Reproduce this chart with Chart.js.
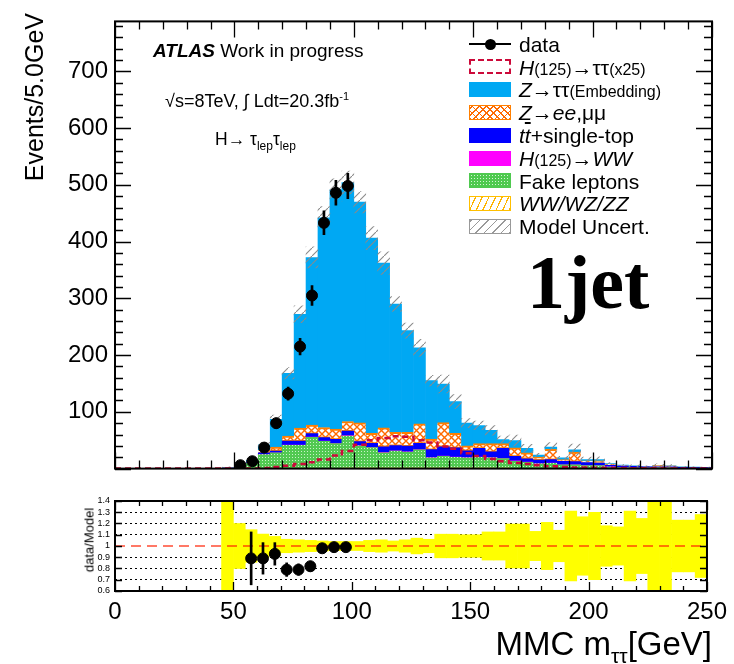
<!DOCTYPE html>
<html>
<head>
<meta charset="utf-8">
<script src="https://cdn.jsdelivr.net/npm/chart.js@4.4.1/dist/chart.umd.min.js"></script>
<style>
html,body{margin:0;padding:0;background:#fff;}
#wrap{position:relative;width:734px;height:664px;overflow:hidden;font-family:"Liberation Sans",Arial,Helvetica,sans-serif;color:#000;}
canvas{position:absolute;left:0;}
.t{position:absolute;white-space:nowrap;line-height:1;}
.leg{position:absolute;left:469px;width:42px;height:15px;box-sizing:border-box;}
.lt{position:absolute;left:519px;font-size:21px;line-height:1;white-space:nowrap;}
.sm{font-size:16px;}
</style>
</head>
<body>
<div id="wrap">
<canvas id="main" width="734" height="490" style="top:0"></canvas>
<canvas id="ratio" width="734" height="174" style="top:490px"></canvas>

<div class="t" style="left:153px;top:41px;font-size:19px;"><b><i>ATLAS</i></b> Work in progress</div>
<div class="t" style="left:165px;top:91px;font-size:18px;">√s=8TeV, ∫ Ldt=20.3fb<sup style="font-size:11px">-1</sup></div>
<div class="t" style="left:215px;top:131px;font-size:17.5px;">H→ τ<sub style="font-size:12px">lep</sub>τ<sub style="font-size:12px">lep</sub></div>
<div class="t" style="left:527px;top:244px;font-size:76px;font-family:'Liberation Serif','Times New Roman',serif;font-weight:bold;">1jet</div>

<div class="t" style="left:20px;top:313px;width:300px;text-align:right;font-size:25px;line-height:1.15;transform-origin:left top;transform:rotate(-90deg);">Events/5.0GeV</div>
<div class="t" style="left:89px;top:540px;font-size:13px;transform:translate(-50%,-50%) rotate(-90deg);">data/Model</div>
<div class="t" style="right:22px;top:627px;font-size:33px;">MMC m<sub style="font-size:21px">ττ</sub>[GeV]</div>

<!-- legend -->
<div style="position:absolute;left:469px;top:43px;width:42px;height:2px;background:#000;"></div>
<div style="position:absolute;left:485px;top:38.5px;width:11px;height:11px;border-radius:50%;background:#000;"></div>
<div class="lt" style="top:33.7px">data</div>

<div class="leg" style="top:59.3px;border:2px dashed #cc0a3a;"></div>
<div class="lt" style="top:56.5px"><i>H</i><span class="sm">(125)</span>→ττ<span class="sm">(x25)</span></div>

<div class="leg" style="top:82.1px;background:#00a8f3;"></div>
<div class="lt" style="top:79.3px"><i>Z</i>→ττ<span class="sm">(Embedding)</span></div>

<div class="leg" style="top:104.9px;border:1.5px solid #ff7f00;background:repeating-linear-gradient(45deg,#ff6a00 0 1.3px,transparent 1.3px 5px),repeating-linear-gradient(-45deg,#ff6a00 0 1.3px,transparent 1.3px 5px),#fff;"></div>
<div class="lt" style="top:102.1px"><i>Z</i>→<i>ee</i>,μμ</div>

<div class="leg" style="top:127.7px;background:#0000ff;"></div>
<div class="lt" style="top:124.9px"><i>t<span style="text-decoration:overline">t</span></i>+single-top</div>

<div class="leg" style="top:150.5px;background:#ff00ff;"></div>
<div class="lt" style="top:147.7px"><i>H</i><span class="sm">(125)</span>→<i>WW</i></div>

<div class="leg" style="top:173.3px;border:1px solid #4fc94f;background:radial-gradient(circle,#d4f5d4 0.8px,transparent 1px) 0 0/3px 3px,#4fc94f;"></div>
<div class="lt" style="top:170.5px">Fake leptons</div>

<div class="leg" style="top:196.1px;border:1.5px solid #ffbf00;background:repeating-linear-gradient(-65deg,#ffb400 0 1.2px,transparent 1.2px 6px),#fff;"></div>
<div class="lt" style="top:193.3px"><i>WW/WZ/ZZ</i></div>

<div class="leg" style="top:218.9px;border:1.5px solid #999;background:repeating-linear-gradient(-45deg,#999 0 1px,transparent 1px 6px),#fff;"></div>
<div class="lt" style="top:216.1px">Model Uncert.</div>
</div>

<script>
// ---------------- data ----------------
const binCenters = [2.5,7.5,12.5,17.5,22.5,27.5,32.5,37.5,42.5,47.5,52.5,57.5,62.5,67.5,72.5,77.5,82.5,87.5,92.5,97.5,102.5,107.5,112.5,117.5,122.5,127.5,132.5,137.5,142.5,147.5,152.5,157.5,162.5,167.5,172.5,177.5,182.5,187.5,192.5,197.5,202.5,207.5,212.5,217.5,222.5,227.5,232.5,237.5,242.5,247.5];
const binWidth = 5;

const dibosonVV = [0,0,0,0,0,0,0,0,0, 0,0,0.3,0.5,0.7,1,1,1,1,1,1.5, 1.5,1.5,1.5,1.5,1.5,1.5,1.5,1.5,1.5,1.5, 1.5,1.5,1.5,1,0.5,0.5,0.5,0.5,0.5,0.5, 0.5,0.3,0.3,0.2,0.2,0.2,0.2,0.1,0,0];
const fakeLeptons = [0,0,0,0,0,0,0,0,0, 1,1.5,9,24,27,40,40,54,47,43,56, 38.5,35.5,26.5,29.5,27.5,31.5,17.5,20,18.5,17.5, 18.5,17.5,16,12,10.5,8,9,6,6,5, 5,2.5,1.5,1,1,1.5,1.5,0.5,0.5,0.5];
const higgsWW = [0,0,0,0,0,0,0,0,0, 0,0,0.2,0.3,0.3,0.5,0.5,0.5,0.5,0.5,0.5, 0.5,0.5,0.5,0.5,0.5,0.5,0.5,0.5,0.5,0.5, 0.5,0.5,0.5,0.5,0.3,0.3,0.3,0.2,0.2,0.2, 0.2,0.1,0.1,0.1,0.1,0,0,0,0,0];
const ttbarTop = [0,0,0,0,0,0,0,0,0, 0,0.5,1.2,3,3,7,7,6,6,7,8, 7,7,10,9,10,11,14,16.5,16,12, 15,10,17.5,8,6,6,6,6,5.5,5, 4,3,2.5,2.5,2,1.5,1.5,1.5,1.5,1.2];
const zeeMuMu = [0,0,0,0,0,0,0,0,0, 0,1,1.5,5,7,9,23,15,18,18,17, 33,17.5,33.5,23.5,24.5,34.5,18.5,42.5,25.5,8.5, 8.5,14.5,8.5,15,10.5,5,18,3,17,3, 4,2,1,0.7,0.4,2.5,1.5,0.5,0.3,0.2];
const zTauTau = [0,0,0,0,0,0,0,0,0, 1,2,2.4,9,49,110.5,200.5,295.5,369.5,421.5,421, 389,344,290,226,179,134,103,68,56,40, 32,23.5,7,13,8,4,4,3.3,3.8,2.3, 2.3,1.1,0.6,0.5,0.3,0.2,0.3,0.4,0.2,0.1];
const higgsTauTauX25 = [0,0,0,0,0,0,0,0,0,0,0,0, 1,3,5,8,11,16,23,31, 42,50,54,57,56,50,46,39,35,27, 22,17,13,10,8,6,4,3,2,2, 1.5,1,1,0.5,0.5,0.5,0.3,0.2,0.2,0.1];
const modelUnc = [0,0,0,0,0,0,0,0,0, 0.5,0.2,0.145,0.106,0.085,0.06,0.055,0.05,0.045,0.04,0.04, 0.04,0.05,0.055,0.045,0.055,0.07,0.06,0.105,0.105,0.10, 0.10,0.125,0.125,0.195,0.195,0.13,0.21,0.14,0.31,0.26, 0.30,0.18,0.17,0.31,0.245,0.45,0.39,0.23,0.23,0.28];
const dataEvents = [null,null,null,null,null,null,null,null,null,null, 6,13,37,80,132,215,305,433,486,498, null,null,null,null,null,null,null,null,null,null, null,null,null,null,null,null,null,null,null,null, null,null,null,null,null,null,null,null,null,null];
const dataErr = [null,null,null,null,null,null,null,null,null,null, 2.5,3.6,6,9,11.5,14.5,17.5,21,22,22.5, null,null,null,null,null,null,null,null,null,null, null,null,null,null,null,null,null,null,null,null, null,null,null,null,null,null,null,null,null,null];
const ratioVals = [null,null,null,null,null,null,null,null,null,null, null,0.89,0.89,0.93,0.79,0.79,0.82,0.98,0.99,0.99, null,null,null,null,null,null,null,null,null,null, null,null,null,null,null,null,null,null,null,null, null,null,null,null,null,null,null,null,null,null];
const ratioErr = [null,null,null,null,null,null,null,null,null,null, null,0.235,0.14,0.1,0.06,0.05,0.045,0.04,0.04,0.04, null,null,null,null,null,null,null,null,null,null, null,null,null,null,null,null,null,null,null,null, null,null,null,null,null,null,null,null,null,null];
const xTickStep = 50;
const yTickStep = 100;
const yMax = 788;

// ---------------- helpers ----------------
Chart.defaults.font.family = '"Liberation Sans", Arial, Helvetica, sans-serif';
Chart.defaults.color = '#000';
Chart.defaults.animation = false;

function makePattern(w, h, draw) {
  const c = document.createElement('canvas');
  c.width = w; c.height = h;
  const g = c.getContext('2d');
  draw(g, w, h);
  return g.createPattern(c, 'repeat');
}
const patZee = makePattern(7, 7, (g, w, h) => {
  g.fillStyle = '#fff'; g.fillRect(0, 0, w, h);
  g.strokeStyle = '#ff6a00'; g.lineWidth = 1.4;
  g.beginPath();
  g.moveTo(-1, -1); g.lineTo(w + 1, h + 1);
  g.moveTo(w + 1, -1); g.lineTo(-1, h + 1);
  g.stroke();
});
const patFake = makePattern(3, 3, (g, w, h) => {
  g.fillStyle = '#52c952'; g.fillRect(0, 0, w, h);
  g.fillStyle = '#c9f2c9'; g.fillRect(1, 1, 1, 1);
});
const patVV = makePattern(6, 6, (g, w, h) => {
  g.fillStyle = '#fff'; g.fillRect(0, 0, w, h);
  g.strokeStyle = '#ffb400'; g.lineWidth = 1.2;
  g.beginPath(); g.moveTo(-1, -1); g.lineTo(w + 1, h + 1); g.stroke();
});
const patUnc = makePattern(8, 8, (g, w, h) => {
  g.strokeStyle = '#8a8a8a'; g.lineWidth = 1.1;
  g.beginPath();
  g.moveTo(-1, h + 1); g.lineTo(w + 1, -1);
  g.stroke();
});

const pts = arr => binCenters.map((x, i) => ({x, y: arr[i]}));
const totals = binCenters.map((_, i) => dibosonVV[i] + fakeLeptons[i] + higgsWW[i] + ttbarTop[i] + zeeMuMu[i] + zTauTau[i]);
const uncBars = binCenters.map((x, i) => ({x, y: [totals[i] * (1 - modelUnc[i]), totals[i] * (1 + modelUnc[i])]})).filter((p, i) => totals[i] > 0);
const higgsStep = binCenters.flatMap((x, i) => [{x: x - binWidth / 2, y: higgsTauTauX25[i]}, {x: x + binWidth / 2, y: higgsTauTauX25[i]}]);
const dataPts = binCenters.map((x, i) => ({x, y: dataEvents[i]})).filter(p => p.y !== null);
const dataBars = binCenters.map((x, i) => ({x, y: dataEvents[i] === null ? null : [dataEvents[i] - dataErr[i], dataEvents[i] + dataErr[i]]})).filter(p => p.y !== null);
const bandBars = binCenters.map((x, i) => ({x, y: [1 - modelUnc[i], 1 + modelUnc[i]]})).filter((p, i) => totals[i] > 0);
const ratioPts = binCenters.map((x, i) => ({x, y: ratioVals[i]})).filter(p => p.y !== null);
const ratioBars = binCenters.map((x, i) => ({x, y: ratioVals[i] === null ? null : [ratioVals[i] - ratioErr[i], ratioVals[i] + ratioErr[i]]})).filter(p => p.y !== null);

// frame + inward ROOT-style ticks drawn through the chart scales
const frameTicks = {
  id: 'frameTicks',
  afterDatasetsDraw(chart, args, o) {
    const {ctx, chartArea: a} = chart;
    const xs = chart.scales[o.xId], ys = chart.scales[o.yId];
    ctx.save();
    ctx.strokeStyle = '#000';
    ctx.lineWidth = 1.3;
    ctx.beginPath();
    const nx = Math.round((xs.max - xs.min) / o.xMinor);
    for (let k = 0; k <= nx; k++) {
      const v = xs.min + k * o.xMinor;
      const r = v / o.xMajor;
      const L = Math.abs(r - Math.round(r)) < 1e-6 ? o.xMajLen : o.xMinLen;
      const px = Math.round(xs.getPixelForValue(v)) + 0.5;
      ctx.moveTo(px, a.bottom); ctx.lineTo(px, a.bottom - L);
      ctx.moveTo(px, a.top); ctx.lineTo(px, a.top + L);
    }
    const ny = Math.floor((ys.max - ys.min) / o.yMinor + 1e-6);
    for (let k = 0; k <= ny; k++) {
      const v = ys.min + k * o.yMinor;
      const r = v / o.yMajor;
      const L = Math.abs(r - Math.round(r)) < 1e-6 ? o.yMajLen : o.yMinLen;
      const py = Math.round(ys.getPixelForValue(v)) + 0.5;
      ctx.moveTo(a.left, py); ctx.lineTo(a.left + L, py);
      ctx.moveTo(a.right, py); ctx.lineTo(a.right - L, py);
    }
    ctx.stroke();
    ctx.lineWidth = 2;
    ctx.strokeRect(a.left, a.top, a.right - a.left, a.bottom - a.top);
    ctx.restore();
  }
};

const barCommon = {type: 'bar', grouped: false, barPercentage: 1, categoryPercentage: 1, borderWidth: 0};
const stackCommon = {...barCommon, xAxisID: 'x', yAxisID: 'y', order: 10};
const hiddenX = {type: 'linear', min: 0, max: 250, offset: false, display: false};

new Chart(document.getElementById('main'), {
  type: 'bar',
  data: {
    datasets: [
      {...stackCommon, label: 'WW/WZ/ZZ', data: pts(dibosonVV), backgroundColor: patVV, borderColor: '#ffbf00', borderWidth: {top: 1, left: 0, right: 0, bottom: 0}},
      {...stackCommon, label: 'Fake leptons', data: pts(fakeLeptons), backgroundColor: patFake},
      {...stackCommon, label: 'H(125)→WW', data: pts(higgsWW), backgroundColor: '#ff00ff'},
      {...stackCommon, label: 'tt+single-top', data: pts(ttbarTop), backgroundColor: '#0000ff'},
      {...stackCommon, label: 'Z→ee,μμ', data: pts(zeeMuMu), backgroundColor: patZee, borderColor: '#ff7f00', borderSkipped: false, borderWidth: {top: 2, left: 0, right: 0, bottom: 1.5}},
      {...stackCommon, label: 'Z→ττ', data: pts(zTauTau), backgroundColor: '#00a8f3'},
      {...barCommon, label: 'Model Uncert.', data: uncBars, xAxisID: 'xe', yAxisID: 'yu', backgroundColor: patUnc, order: 5},
      {type: 'line', label: 'H(125)→ττ(x25)', data: higgsStep, xAxisID: 'xe', yAxisID: 'yu', borderColor: '#cc0a3a', borderWidth: 2.5, borderDash: [6, 4], pointRadius: 0, fill: false, order: 3},
      {...barCommon, label: 'data err', data: dataBars, xAxisID: 'xd', yAxisID: 'yu', backgroundColor: '#000', barThickness: 2, order: 1},
      {type: 'line', label: 'data', data: dataPts, xAxisID: 'xd', yAxisID: 'yu', showLine: false, pointRadius: 5.5, pointBackgroundColor: '#000', pointBorderColor: '#000', order: 0}
    ]
  },
  options: {
    responsive: false,
    animation: false,
    layout: {padding: {top: 13, right: 22, bottom: 8, left: 0}},
    plugins: {
      legend: {display: false}, tooltip: {enabled: false},
      frameTicks: {xId: 'x', yId: 'y', xMinor: 10, xMajor: xTickStep, xMajLen: 16, xMinLen: 8, yMinor: 20, yMajor: yTickStep, yMajLen: 16, yMinLen: 8}
    },
    scales: {
      x: {...hiddenX, stacked: true},
      xe: {...hiddenX},
      xd: {...hiddenX},
      y: {
        type: 'linear', min: 0, max: yMax, stacked: true, position: 'left',
        grid: {display: false, drawTicks: false}, border: {display: false},
        ticks: {stepSize: yTickStep, includeBounds: false, padding: 7, font: {size: 24}, callback: v => v > 0 ? v : ''},
        afterFit(s) { s.width = 115; }
      },
      yu: {type: 'linear', min: 0, max: yMax, display: false}
    }
  },
  plugins: [frameTicks]
});

const dottedVals = [0.7, 0.8, 0.9, 1.1, 1.2, 1.3];
new Chart(document.getElementById('ratio'), {
  type: 'bar',
  data: {
    datasets: [
      {...barCommon, label: 'band', data: bandBars, xAxisID: 'x', yAxisID: 'y', backgroundColor: '#ffff00', order: 5},
      {type: 'line', label: 'unity', data: [{x: 0, y: 1}, {x: 250, y: 1}], xAxisID: 'xe', yAxisID: 'y', borderColor: 'rgba(255,30,0,0.6)', borderWidth: 2, borderDash: [10, 6], pointRadius: 0, fill: false, order: 2},
      {...barCommon, label: 'ratio err', data: ratioBars, xAxisID: 'xd', yAxisID: 'y', backgroundColor: '#000', barThickness: 2, order: 1},
      {type: 'line', label: 'ratio', data: ratioPts, xAxisID: 'xd', yAxisID: 'y', showLine: false, pointRadius: 5.5, pointBackgroundColor: '#000', pointBorderColor: '#000', order: 0}
    ]
  },
  options: {
    responsive: false,
    animation: false,
    layout: {padding: {top: 11, right: 22, bottom: 33, left: 0}},
    plugins: {
      legend: {display: false}, tooltip: {enabled: false},
      frameTicks: {xId: 'x', yId: 'y', xMinor: 10, xMajor: xTickStep, xMajLen: 9, xMinLen: 5, yMinor: 0.1, yMajor: 0.1, yMajLen: 7, yMinLen: 7}
    },
    scales: {
      x: {
        type: 'linear', min: 0, max: 250, offset: false,
        grid: {display: false, drawTicks: false}, border: {display: false},
        ticks: {stepSize: xTickStep, padding: 7, font: {size: 24}, maxRotation: 0, autoSkip: false},
        afterFit(s) { s.height = 40; }
      },
      xe: {...hiddenX},
      xd: {...hiddenX},
      y: {
        type: 'linear', min: 0.6, max: 1.4,
        grid: {drawTicks: false, lineWidth: 1, color: c => dottedVals.some(d => Math.abs(c.tick.value - d) < 1e-6) ? '#000' : 'rgba(0,0,0,0)'},
        border: {display: false, dash: [2, 3]},
        ticks: {stepSize: 0.1, padding: 5, autoSkip: false, font: {size: 9}, callback: v => String(Number(v.toFixed(1)))},
        afterFit(s) { s.width = 115; }
      }
    }
  },
  plugins: [frameTicks]
});
</script>
</body>
</html>
